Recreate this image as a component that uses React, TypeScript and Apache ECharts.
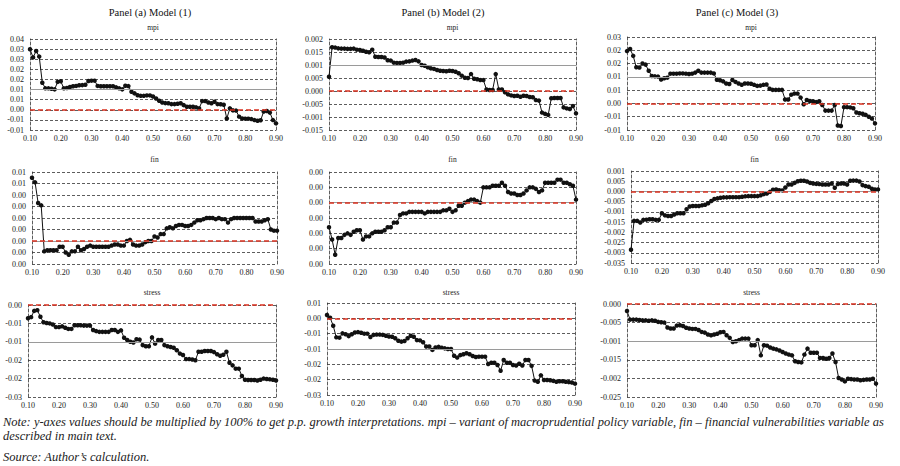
import React, { useEffect, useRef } from "react";
import * as echarts from "echarts";

const QUANTILES = [
  "0.10","0.11","0.12","0.13","0.14","0.15","0.16","0.17","0.18","0.19",
  "0.20","0.21","0.22","0.23","0.24","0.25","0.26","0.27","0.28","0.29",
  "0.30","0.31","0.32","0.33","0.34","0.35","0.36","0.37","0.38","0.39",
  "0.40","0.41","0.42","0.43","0.44","0.45","0.46","0.47","0.48","0.49",
  "0.50","0.51","0.52","0.53","0.54","0.55","0.56","0.57","0.58","0.59",
  "0.60","0.61","0.62","0.63","0.64","0.65","0.66","0.67","0.68","0.69",
  "0.70","0.71","0.72","0.73","0.74","0.75","0.76","0.77","0.78","0.79",
  "0.80","0.81","0.82","0.83","0.84","0.85","0.86","0.87","0.88","0.89",
  "0.90"
];
const X_TICKS = ["0.10","0.20","0.30","0.40","0.50","0.60","0.70","0.80","0.90"];

const COLUMN_TITLES = ["Panel (a) Model (1)", "Panel (b) Model (2)", "Panel (c) Model (3)"];
const ROW_TITLES = ["mpi", "fin", "stress"];

// ---- Row 1: mpi ----
const A_MPI = [0.0299,0.0259,0.0291,0.0263,0.0134,0.0106,0.0106,0.0104,0.0101,0.0138,
0.0141,0.0106,0.0108,0.0113,0.0116,0.0118,0.0121,0.0122,0.0124,0.0142,
0.0144,0.0144,0.0118,0.0116,0.0116,0.0116,0.0116,0.0116,0.0111,0.0106,
0.0101,0.0119,0.0117,0.0089,0.0081,0.0072,0.0069,0.0069,0.0071,0.0071,
0.0066,0.0056,0.0045,0.0036,0.0033,0.0032,0.0028,0.0028,0.0030,0.0032,
0.0023,0.0015,0.0015,0.0015,0.0012,0.0007,0.0043,0.0043,0.0036,0.0032,
0.0040,0.0028,0.0027,0.0025,-0.0043,0.0007,-0.0003,-0.0004,-0.0034,-0.0043,
-0.0044,-0.0044,-0.0046,-0.0051,-0.0054,-0.0052,-0.0009,-0.0006,-0.0014,-0.0051,
-0.0067];
const B_MPI = [0.0055,0.0168,0.0167,0.0164,0.0163,0.0163,0.0162,0.0162,0.0163,0.0159,
0.0158,0.0155,0.0151,0.0149,0.0159,0.0132,0.0131,0.0131,0.0129,0.0118,
0.0117,0.0109,0.0108,0.0108,0.0109,0.0113,0.0114,0.0117,0.0119,0.0114,
0.0100,0.0097,0.0091,0.0087,0.0085,0.0081,0.0078,0.0077,0.0076,0.0078,
0.0077,0.0074,0.0068,0.0059,0.0051,0.0050,0.0065,0.0047,0.0045,0.0042,
0.0042,0.0006,0.0004,0.0004,0.0065,0.0006,0.0006,-0.0005,-0.0013,-0.0017,
-0.0019,-0.0018,-0.0022,-0.0018,-0.0019,-0.0023,-0.0024,-0.0035,-0.0037,-0.0083,
-0.0088,-0.0092,-0.0028,-0.0027,-0.0027,-0.0027,-0.0063,-0.0067,-0.0069,-0.0058,
-0.0086];
const C_MPI = [0.0197,0.0205,0.0179,0.0136,0.0135,0.0150,0.0146,0.0123,0.0103,0.0102,
0.0101,0.0090,0.0095,0.0097,0.0112,0.0112,0.0112,0.0113,0.0113,0.0112,
0.0111,0.0112,0.0116,0.0123,0.0116,0.0116,0.0116,0.0116,0.0113,0.0089,
0.0087,0.0083,0.0075,0.0073,0.0088,0.0081,0.0075,0.0070,0.0075,0.0075,
0.0074,0.0070,0.0066,0.0067,0.0070,0.0071,0.0055,0.0051,0.0051,0.0051,
0.0051,0.0015,0.0015,0.0033,0.0037,0.0037,0.0022,-0.0003,0.0013,0.0009,
0.0008,0.0005,0.0008,-0.0006,-0.0027,-0.0027,-0.0027,-0.0006,-0.0083,-0.0085,
-0.0014,-0.0014,-0.0015,-0.0018,-0.0034,-0.0037,-0.0039,-0.0043,-0.0050,-0.0057,
-0.0075];

// ---- Row 2: fin ----
const A_FIN = [0.0055,0.0051,0.0033,0.0031,-0.0009,-0.0008,-0.0008,-0.0008,-0.0008,-0.0005,
-0.0005,-0.0010,-0.0012,-0.0009,-0.0009,-0.0005,-0.0008,-0.0007,-0.0005,-0.0004,
-0.0005,-0.0005,-0.0005,-0.0005,-0.0005,-0.0005,-0.0004,-0.0003,-0.0003,-0.0004,
-0.0004,0.0000,0.0001,-0.0003,-0.0004,-0.0004,-0.0003,-0.0001,0.0000,0.0000,
0.0004,0.0003,0.0006,0.0006,0.0011,0.0012,0.0011,0.0013,0.0014,0.0014,
0.0013,0.0013,0.0014,0.0016,0.0018,0.0018,0.0019,0.0020,0.0020,0.0020,
0.0019,0.0020,0.0019,0.0019,0.0016,0.0019,0.0020,0.0020,0.0020,0.0020,
0.0020,0.0020,0.0020,0.0017,0.0017,0.0017,0.0018,0.0019,0.0010,0.0009,
0.0009];
const B_FIN = [-0.0016,-0.0024,-0.0034,-0.0023,-0.0023,-0.0021,-0.0020,-0.0021,-0.0019,-0.0018,
-0.0018,-0.0024,-0.0022,-0.0022,-0.0020,-0.0019,-0.0019,-0.0019,-0.0018,-0.0016,
-0.0016,-0.0013,-0.0013,-0.0008,-0.0007,-0.0007,-0.0006,-0.0006,-0.0006,-0.0006,
-0.0006,-0.0007,-0.0006,-0.0006,-0.0006,-0.0006,-0.0006,-0.0005,-0.0005,-0.0004,
-0.0006,-0.0005,-0.0002,-0.0002,0.0000,0.0001,0.0002,0.0002,0.0001,0.0000,
0.0010,0.0010,0.0010,0.0011,0.0011,0.0011,0.0013,0.0011,0.0007,0.0006,
0.0006,0.0005,0.0005,0.0006,0.0008,0.0010,0.0010,0.0009,0.0007,0.0008,
0.0013,0.0013,0.0013,0.0013,0.0015,0.0015,0.0013,0.0013,0.0012,0.0011,
0.0002];
const C_FIN = [-0.0285,-0.0144,-0.0144,-0.0152,-0.0139,-0.0138,-0.0136,-0.0136,-0.0139,-0.0139,
-0.0107,-0.0117,-0.0120,-0.0120,-0.0113,-0.0107,-0.0107,-0.0107,-0.0087,-0.0074,
-0.0071,-0.0071,-0.0071,-0.0068,-0.0065,-0.0058,-0.0047,-0.0037,-0.0034,-0.0031,
-0.0029,-0.0029,-0.0028,-0.0028,-0.0028,-0.0028,-0.0026,-0.0024,-0.0023,-0.0023,
-0.0023,-0.0023,-0.0019,-0.0013,-0.0010,-0.0002,0.0008,0.0010,0.0006,0.0005,
0.0019,0.0034,0.0034,0.0042,0.0050,0.0052,0.0052,0.0049,0.0042,0.0039,
0.0037,0.0036,0.0034,0.0034,0.0034,0.0039,0.0018,0.0036,0.0039,0.0039,
0.0034,0.0052,0.0053,0.0053,0.0049,0.0031,0.0026,0.0023,0.0013,0.0010,
0.0010];

// ---- Row 3: stress ----
const A_STRESS = [-0.0036,-0.0033,-0.0016,-0.0014,-0.0032,-0.0047,-0.0049,-0.0050,-0.0053,-0.0060,
-0.0060,-0.0058,-0.0062,-0.0065,-0.0065,-0.0055,-0.0055,-0.0055,-0.0056,-0.0056,
-0.0056,-0.0068,-0.0071,-0.0073,-0.0073,-0.0073,-0.0073,-0.0068,-0.0068,-0.0073,
-0.0069,-0.0089,-0.0095,-0.0100,-0.0102,-0.0093,-0.0094,-0.0109,-0.0112,-0.0112,
-0.0088,-0.0105,-0.0095,-0.0095,-0.0109,-0.0112,-0.0114,-0.0116,-0.0123,-0.0132,
-0.0136,-0.0147,-0.0147,-0.0148,-0.0150,-0.0127,-0.0127,-0.0125,-0.0125,-0.0125,
-0.0128,-0.0134,-0.0138,-0.0135,-0.0127,-0.0157,-0.0164,-0.0173,-0.0173,-0.0193,
-0.0203,-0.0204,-0.0204,-0.0204,-0.0205,-0.0203,-0.0200,-0.0201,-0.0202,-0.0203,
-0.0205];
const B_STRESS = [0.0011,0.0002,-0.0024,-0.0062,-0.0063,-0.0049,-0.0052,-0.0058,-0.0052,-0.0046,
-0.0045,-0.0047,-0.0050,-0.0050,-0.0061,-0.0054,-0.0053,-0.0053,-0.0054,-0.0057,
-0.0059,-0.0060,-0.0065,-0.0073,-0.0076,-0.0074,-0.0065,-0.0057,-0.0060,-0.0071,
-0.0072,-0.0078,-0.0092,-0.0092,-0.0103,-0.0095,-0.0093,-0.0096,-0.0098,-0.0100,
-0.0100,-0.0122,-0.0128,-0.0120,-0.0117,-0.0114,-0.0117,-0.0123,-0.0126,-0.0125,
-0.0125,-0.0125,-0.0149,-0.0145,-0.0145,-0.0152,-0.0171,-0.0136,-0.0145,-0.0145,
-0.0152,-0.0154,-0.0148,-0.0154,-0.0136,-0.0136,-0.0155,-0.0203,-0.0207,-0.0186,
-0.0201,-0.0201,-0.0202,-0.0204,-0.0207,-0.0205,-0.0205,-0.0207,-0.0208,-0.0209,
-0.0213];
const C_STRESS = [-0.0019,-0.0042,-0.0042,-0.0042,-0.0043,-0.0044,-0.0044,-0.0045,-0.0044,-0.0045,
-0.0048,-0.0049,-0.0050,-0.0063,-0.0066,-0.0066,-0.0058,-0.0057,-0.0059,-0.0064,
-0.0066,-0.0067,-0.0067,-0.0070,-0.0075,-0.0077,-0.0082,-0.0084,-0.0082,-0.0080,
-0.0076,-0.0075,-0.0084,-0.0091,-0.0102,-0.0100,-0.0097,-0.0093,-0.0093,-0.0093,
-0.0111,-0.0111,-0.0097,-0.0138,-0.0111,-0.0112,-0.0117,-0.0120,-0.0122,-0.0125,
-0.0129,-0.0133,-0.0136,-0.0138,-0.0154,-0.0156,-0.0157,-0.0136,-0.0120,-0.0131,
-0.0131,-0.0131,-0.0145,-0.0145,-0.0147,-0.0145,-0.0133,-0.0156,-0.0199,-0.0203,
-0.0208,-0.0201,-0.0202,-0.0203,-0.0203,-0.0205,-0.0204,-0.0203,-0.0203,-0.0201,
-0.0214];

// y tick labels, top to bottom, as printed
const A_MPI_TICKS = ["0.04","0.03","0.03","0.02","0.02","0.01","0.01","0.00","-0.01","-0.01"];
const B_MPI_TICKS = ["0.002","0.015","0.001","0.005","0.000","-0.005","-0.001","-0.015"];
const C_MPI_TICKS = ["0.03","0.02","0.02","0.01","0.01","0.00","-0.01","-0.01"];
const A_FIN_TICKS = ["0.01","0.01","0.00","0.00","0.00","0.00","0.00","0.00","0.00"];
const B_FIN_TICKS = ["0.00","0.00","0.00","0.00","0.00","0.00","0.00"];
const C_FIN_TICKS = ["0.001","0.005","0.000","-0.005","-0.001","-0.015","-0.002","-0.025","-0.003","-0.035"];
const A_STRESS_TICKS = ["0.00","-0.01","-0.01","-0.02","-0.02","-0.03"];
const B_STRESS_TICKS = ["0.01","0.00","-0.01","-0.01","-0.02","-0.02","-0.03"];
const C_STRESS_TICKS = ["0.000","-0.005","-0.001","-0.015","-0.002","-0.025"];

// y scale [min, max, step] per panel
const Y_SCALES = [
  [-0.01, 0.035, 0.005], [-0.015, 0.02, 0.005], [-0.01, 0.025, 0.005],
  [-0.002, 0.006, 0.001], [-0.004, 0.002, 0.001], [-0.035, 0.01, 0.005],
  [-0.025, 0.0, 0.005], [-0.025, 0.005, 0.005], [-0.025, 0.0, 0.005],
];
// grey reference (mean) line per panel
const REF_LINES = [0.0099, 0.0099, 0.0093, 0.0016, 0.0, -0.003, -0.0139, -0.0141, -0.0139];
const ZERO_LINE = 0;

const NOTE_LINES = [
  "Note: y-axes values should be multiplied by 100% to get p.p. growth interpretations. mpi – variant of macroprudential policy variable, fin – financial vulnerabilities variable as",
  "described in main text.",
  "Source: Author’s calculation.",
];

// layout: plot boxes [left, top, right, bottom] in px
const BOXES = [
  [30, 39, 276, 130], [329, 39, 576, 130], [627, 37, 875, 130],
  [32, 172, 277, 264], [329, 172, 576, 264], [631, 171, 878, 263],
  [28, 305, 276, 397], [327, 303, 575, 395], [627, 304, 876, 397],
];
const COL_TITLE_X = [150, 443, 737];
const ROW_TITLE_Y = [27, 159, 292];
const NOTE_Y = [422, 436, 457];

const FONT = "'Liberation Serif', 'Times New Roman', serif";

export default function App() {
  const ref = useRef<HTMLDivElement>(null);
  useEffect(() => {
    if (!ref.current) return;
    const chart = echarts.init(ref.current, null, { renderer: "svg" });
    const DATA = [A_MPI, B_MPI, C_MPI, A_FIN, B_FIN, C_FIN, A_STRESS, B_STRESS, C_STRESS];
    const TICKS = [A_MPI_TICKS, B_MPI_TICKS, C_MPI_TICKS, A_FIN_TICKS, B_FIN_TICKS, C_FIN_TICKS, A_STRESS_TICKS, B_STRESS_TICKS, C_STRESS_TICKS];

    const grid: any[] = [];
    const xAxis: any[] = [];
    const yAxis: any[] = [];
    const series: any[] = [];
    const graphic: any[] = [];
    const dashed = { color: "#333", type: [3, 2], width: 0.8 };

    DATA.forEach((data, i) => {
      const [l, t, r, b] = BOXES[i];
      const [mn, mx, st] = Y_SCALES[i];
      const ticks = TICKS[i];
      grid.push({ left: l, top: t, width: r - l, height: b - t });
      xAxis.push({
        type: "category", gridIndex: i, data: QUANTILES, boundaryGap: false,
        axisLine: { show: false }, axisTick: { show: false }, splitLine: { show: false },
        axisLabel: {
          interval: 9, fontFamily: FONT, fontSize: 8, color: "#222", margin: 4,
          formatter: (_v: string, idx: number) => X_TICKS[Math.round(idx / 10)] ?? "",
        },
      });
      yAxis.push({
        type: "value", gridIndex: i, min: mn, max: mx, interval: st,
        axisLine: { show: true, lineStyle: dashed }, axisTick: { show: false },
        splitLine: { show: true, lineStyle: dashed },
        axisLabel: {
          fontFamily: FONT, fontSize: 8, color: "#222", margin: 6,
          formatter: (v: number) => ticks[Math.round((mx - v) / st)] ?? "",
        },
      });
      yAxis.push({
        type: "value", gridIndex: i, position: "right", min: mn, max: mx, interval: st,
        axisLine: { show: true, lineStyle: dashed }, axisTick: { show: false },
        splitLine: { show: false }, axisLabel: { show: false },
      });
      series.push({
        type: "line", xAxisIndex: i, yAxisIndex: 2 * i, data,
        symbol: "circle", symbolSize: 4.5, showAllSymbol: true,
        lineStyle: { color: "#111", width: 1 }, itemStyle: { color: "#111" },
        markLine: {
          silent: true, symbol: "none", label: { show: false }, animation: false,
          data: [
            { yAxis: REF_LINES[i], lineStyle: { color: "#9a9a9a", width: 1, type: "solid" } },
            { yAxis: ZERO_LINE, lineStyle: { color: "#d9301f", width: 1.5, type: [5, 3] } },
          ],
        },
      });
      const col = i % 3;
      const row = Math.floor(i / 3);
      graphic.push({
        type: "text", x: (l + r) / 2, y: ROW_TITLE_Y[row],
        style: { text: ROW_TITLES[row], fontFamily: FONT, fontSize: 7.5, fill: "#222", textAlign: "center", textVerticalAlign: "middle" },
      });
      if (row === 0) {
        graphic.push({
          type: "text", x: COL_TITLE_X[col], y: 12,
          style: { text: COLUMN_TITLES[col], fontFamily: FONT, fontSize: 10.5, fill: "#111", textAlign: "center", textVerticalAlign: "middle" },
        });
      }
    });
    NOTE_LINES.forEach((txt, k) => {
      graphic.push({
        type: "text", x: 3, y: NOTE_Y[k],
        style: { text: txt, fontFamily: FONT, fontStyle: "italic", fontSize: 12.5, fill: "#222", textAlign: "left", textVerticalAlign: "middle" },
      });
    });

    chart.setOption({ animation: false, backgroundColor: "#fff", grid, xAxis, yAxis, series, graphic });
    return () => chart.dispose();
  }, []);
  return <div ref={ref} style={{ position: "absolute", left: 0, top: 0, width: 900, height: 466 }} />;
}
